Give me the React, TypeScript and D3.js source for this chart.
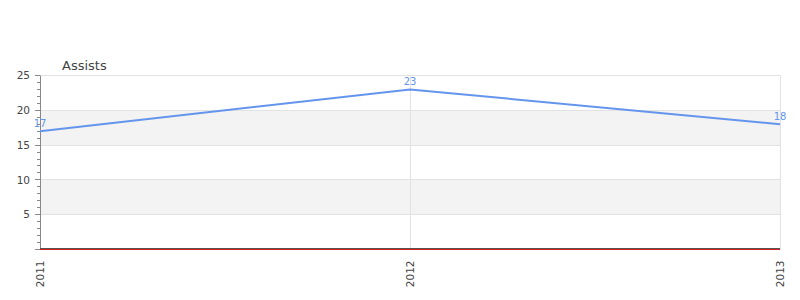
import React from "react";
import * as d3 from "d3";

const years = ["2011", "2012", "2013"];
const assists = [17, 23, 18];
const yTicks = [5, 10, 15, 20, 25];
const seriesTitle = "Assists";

const W = 800;
const H = 300;
const margin = { left: 40, right: 20, top: 75.5, bottom: 50.5 };
const FONT = "DejaVu Sans, sans-serif";

export default function App() {
  const x = d3
    .scalePoint<string>()
    .domain(years)
    .range([margin.left, W - margin.right]);
  const y = d3
    .scaleLinear()
    .domain([0, 25])
    .range([H - margin.bottom, margin.top]);

  const line = d3
    .line<number>()
    .x((_, i) => x(years[i]) as number)
    .y((d) => y(d));

  const minor = d3.range(1, 25).filter((v) => v % 5 !== 0);
  const bands = [
    [5, 10],
    [15, 20],
  ];
  const x0 = margin.left;
  const x1 = W - margin.right;
  const py = (v: number) => Math.round(y(v) - 0.5) + 0.5;

  return (
    <svg
      width={W}
      height={H}
      style={{ position: "absolute", left: 0, top: 0, fontFamily: FONT }}
    >
      <rect x={0} y={0} width={W} height={H} fill="#fff" />
      {/* alternating bands */}
      {bands.map(([a, b]) => (
        <rect
          key={a}
          x={x0}
          y={py(b)}
          width={x1 - x0}
          height={py(a) - py(b)}
          fill="#f3f3f3"
        />
      ))}
      {/* horizontal grid */}
      {yTicks.map((t) => (
        <line key={t} x1={x0} x2={x1} y1={py(t)} y2={py(t)} stroke="#e2e2e2" />
      ))}
      {/* vertical grid */}
      {years.slice(1).map((yr) => (
        <line
          key={yr}
          x1={Math.round(x(yr) as number) + 0.5}
          x2={Math.round(x(yr) as number) + 0.5}
          y1={py(25)}
          y2={py(0)}
          stroke="#e2e2e2"
        />
      ))}
      {/* y axis */}
      <line x1={x0 + 0.5} x2={x0 + 0.5} y1={py(25)} y2={py(0)} stroke="#888" />
      {minor.map((t) => (
        <line key={t} x1={x0 - 3} x2={x0} y1={py(t)} y2={py(t)} stroke="#888" />
      ))}
      <line x1={x0 - 5} x2={x0} y1={py(0)} y2={py(0)} stroke="#888" />
      {yTicks.map((t) => (
        <g key={t}>
          <line x1={x0 - 5} x2={x0} y1={py(t)} y2={py(t)} stroke="#888" />
          <text
            x={x0 - 10}
            y={y(t)}
            dy="0.35em"
            textAnchor="end"
            fontSize={10.5}
            fill="#444"
          >
            {t}
          </text>
        </g>
      ))}
      {/* baseline */}
      <line x1={x0} x2={x1} y1={py(0) - 1} y2={py(0) - 1} stroke="#555" />
      <line x1={x0} x2={x1} y1={py(0)} y2={py(0)} stroke="#d62020" />
      {/* x labels */}
      {years.map((yr) => (
        <text
          key={yr}
          transform={`translate(${(x(yr) as number) + 3.5},${y(0) + 11}) rotate(-90)`}
          textAnchor="end"
          fontSize={10.5}
          fill="#444"
        >
          {yr}
        </text>
      ))}
      {/* series */}
      <path d={line(assists) ?? ""} fill="none" stroke="#6495ed" strokeWidth={2} />
      {assists.map((v, i) => (
        <text
          key={i}
          x={x(years[i]) as number}
          y={y(v) - 4.5}
          textAnchor="middle"
          fontSize={10}
          fill="#6495ed"
        >
          {v}
        </text>
      ))}
      <text x={62} y={70} fontSize={13} fill="#444">
        {seriesTitle}
      </text>
    </svg>
  );
}
